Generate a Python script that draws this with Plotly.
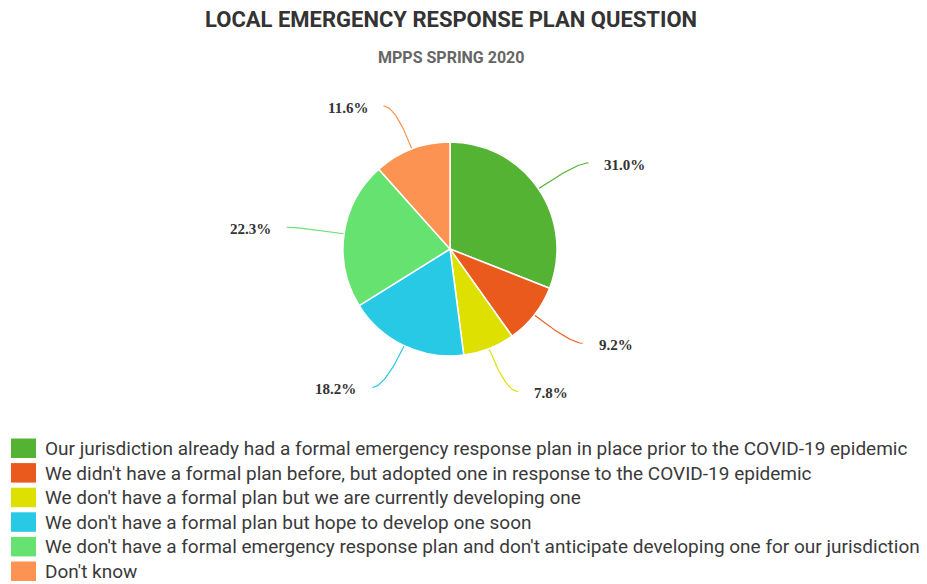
import math
import plotly.graph_objects as go

# Survey answers, in clockwise order starting at 12 o'clock
labels = [
    "Our jurisdiction already had a formal emergency response plan in place prior to the COVID-19 epidemic",
    "We didn't have a formal plan before, but adopted one in response to the COVID-19 epidemic",
    "We don't have a formal plan but we are currently developing one",
    "We don't have a formal plan but hope to develop one soon",
    "We don't have a formal emergency response plan and don't anticipate developing one for our jurisdiction",
    "Don't know",
]
shares = [31.0, 9.2, 7.8, 18.2, 22.3, 11.6]
colors = ["#55b334", "#ea5a1d", "#dde000", "#27c9e4", "#66e270", "#fd9352"]

W, H = 927, 584
CX, CY, R = 450, 249, 107          # pie centre / radius in pixels
LINE_R = 153                       # radius where leader lines turn
LINE_TAIL = 12                     # horizontal tail of leader lines
LABEL_GAP = 14
SANS = "Roboto"

fig = go.Figure()

fig.add_trace(go.Pie(
    labels=labels,
    values=shares,
    sort=False,
    direction="clockwise",
    rotation=0,
    marker=dict(colors=colors, line=dict(color="white", width=1.5)),
    textinfo="none",
    hoverinfo="label+value",
    showlegend=False,
    domain=dict(x=[(CX - R) / W, (CX + R) / W],
                y=[1 - (CY + R) / H, 1 - (CY - R) / H]),
))

# Leader lines and percentage labels, placed from each slice's mid angle
total = sum(shares)
cum = 0.0
annotations = []
for lab, val, col in zip(labels, shares, colors):
    mid = (cum + val / 2) / total * 2 * math.pi
    cum += val
    dx, dy = math.sin(mid), -math.cos(mid)
    side = 1 if dx >= 0 else -1
    p0 = (CX + R * dx, CY + R * dy)
    p1 = (CX + LINE_R * dx, CY + LINE_R * dy)
    p2 = (p1[0] + side * LINE_TAIL, p1[1])
    xs, ys = [], []
    for i in range(31):
        t = i / 30
        xs.append((1 - t) ** 2 * p0[0] + 2 * (1 - t) * t * p1[0] + t ** 2 * p2[0])
        ys.append((1 - t) ** 2 * p0[1] + 2 * (1 - t) * t * p1[1] + t ** 2 * p2[1])
    fig.add_trace(go.Scatter(x=xs, y=ys, mode="lines",
                             line=dict(color=col, width=1.2),
                             hoverinfo="skip", showlegend=False))
    annotations.append(dict(
        x=p2[0] + side * LABEL_GAP, y=p2[1] + 2, xref="x", yref="y",
        text=f"<b>{val:.1f}%</b>", showarrow=False,
        xanchor="left" if side > 0 else "right", yanchor="middle",
        font=dict(family="Liberation Serif", size=15, color="#333333"),
    ))

# Legend rows: colour box + answer text
ROW0, ROW_STEP = 448, 24.6
for i, (lab, col) in enumerate(zip(labels, colors)):
    yc = ROW0 + i * ROW_STEP
    fig.add_shape(type="rect", xref="x", yref="y",
                  x0=11, x1=36, y0=yc - 9.5, y1=yc + 10,
                  fillcolor=col, line=dict(width=0))
    annotations.append(dict(
        x=44, y=yc + 0.5, xref="x", yref="y", text=lab, showarrow=False,
        xanchor="left", yanchor="middle", borderpad=0,
        font=dict(family=SANS, size=19, color="#3a3a3a"),
    ))

annotations.append(dict(
    x=W / 2 - 13, y=19, xref="x", yref="y",
    text="<b>LOCAL EMERGENCY RESPONSE PLAN QUESTION</b>", showarrow=False,
    xanchor="center", yanchor="middle",
    font=dict(family=SANS, size=22, color="#333333"),
))
annotations.append(dict(
    x=W / 2 - 13, y=57, xref="x", yref="y",
    text="<b>MPPS SPRING 2020</b>", showarrow=False,
    xanchor="center", yanchor="middle",
    font=dict(family=SANS, size=16, color="#666666"),
))

fig.update_layout(
    width=W, height=H,
    margin=dict(l=0, r=0, t=0, b=0),
    paper_bgcolor="white", plot_bgcolor="rgba(0,0,0,0)",
    xaxis=dict(range=[0, W], visible=False, fixedrange=True),
    yaxis=dict(range=[H, 0], visible=False, fixedrange=True),
    annotations=annotations,
    showlegend=False,
)

fig.write_html("out.html")
